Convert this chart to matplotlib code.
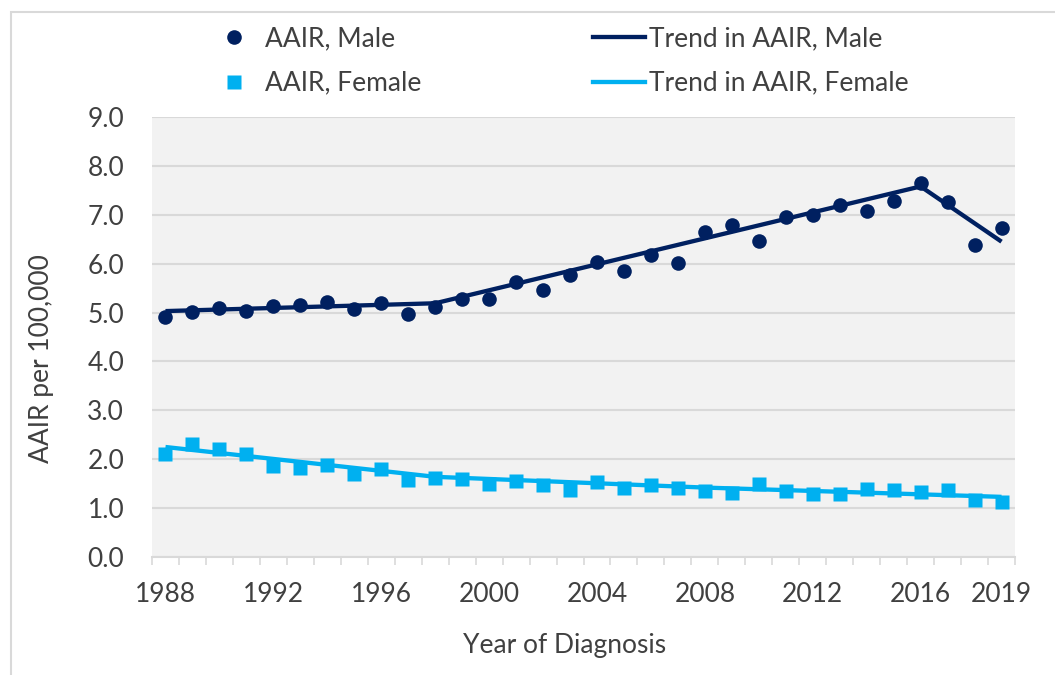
import matplotlib
matplotlib.use("Agg")
import matplotlib.pyplot as plt
from matplotlib.lines import Line2D
from matplotlib.patches import Rectangle
import numpy as np

plt.rcParams['font.family'] = ['Lato', 'DejaVu Sans']

years = list(range(1988, 2020))
male_aair = [4.90, 5.02, 5.10, 5.03, 5.13, 5.15, 5.22, 5.07, 5.20, 4.97,
             5.12, 5.27, 5.28, 5.62, 5.47, 5.77, 6.03, 5.85, 6.17, 6.01,
             6.65, 6.80, 6.47, 6.95, 6.99, 7.21, 7.07, 7.29, 7.64, 7.27,
             6.39, 6.72]
female_aair = [2.10, 2.32, 2.20, 2.10, 1.87, 1.83, 1.88, 1.70, 1.80, 1.58,
               1.62, 1.60, 1.50, 1.55, 1.48, 1.37, 1.54, 1.42, 1.48, 1.42,
               1.35, 1.30, 1.50, 1.35, 1.28, 1.28, 1.40, 1.38, 1.32, 1.38,
               1.17, 1.13]
male_trend_years = [1988, 1998, 2016, 2019]
male_trend_vals = [5.03, 5.19, 7.58, 6.45]
female_trend_years = [1988, 1998, 2008, 2019]
female_trend_vals = [2.25, 1.64, 1.42, 1.23]
xtick_labels = [1988, 1992, 1996, 2000, 2004, 2008, 2012, 2016, 2019]
ytick_vals = [0, 1, 2, 3, 4, 5, 6, 7, 8, 9]

NAVY = '#002060'
CYAN = '#00B0F0'
TXT = '#404040'
GRID = '#D9D9D9'
FS = 19

W, H = 1055, 675
fig = plt.figure(figsize=(W / 100, H / 100), dpi=100)
ax = fig.add_axes([152 / W, 1 - 557 / H, (1015 - 152) / W, (557 - 117) / H])
ax.set_facecolor('#F2F2F2')

ax.plot(male_trend_years, male_trend_vals, color=NAVY, lw=3.1, zorder=3,
        solid_capstyle='butt')
ax.plot(female_trend_years, female_trend_vals, color=CYAN, lw=3.1, zorder=3,
        solid_capstyle='butt')
ax.plot(years, male_aair, 'o', color=NAVY, ms=10.5, mec='none', zorder=4)
ax.plot(years, female_aair, 's', color=CYAN, ms=10, mec='none', zorder=4)

ax.set_xlim(1987.5, 2019.5)
ax.set_ylim(0, 9)
ax.set_yticks(ytick_vals)
ax.set_yticklabels([f"{v:.1f}" for v in ytick_vals])
ax.set_xticks(xtick_labels)
ax.set_xticklabels([str(v) for v in xtick_labels])
ax.set_xticks(np.arange(1987.5, 2020, 1.0), minor=True)
ax.tick_params(axis='x', which='major', length=0, pad=18, labelsize=FS, labelcolor=TXT)
ax.tick_params(axis='x', which='minor', length=6, width=1.2, color=GRID, direction='out')
ax.tick_params(axis='y', length=0, pad=20, labelsize=FS, labelcolor=TXT)

ax.grid(axis='y', color=GRID, lw=1.5, zorder=0)
ax.set_axisbelow(True)
for s in ['top', 'right', 'left']:
    ax.spines[s].set_visible(False)
ax.spines['bottom'].set_color(GRID)
ax.spines['bottom'].set_linewidth(1.5)

fig.text(42 / W, 1 - 359 / H, 'AAIR per 100,000', rotation=90, ha='center',
         va='center', fontsize=FS, color=TXT)
fig.text(565 / W, 1 - 646 / H, 'Year of Diagnosis', ha='center', va='center',
         fontsize=FS, color=TXT)

handles = [
    Line2D([], [], ls='none', marker='o', color=NAVY, ms=10.5, mec='none'),
    Line2D([], [], ls='none', marker='s', color=CYAN, ms=10, mec='none'),
    Line2D([], [], color=NAVY, lw=3.1),
    Line2D([], [], color=CYAN, lw=3.1),
]
labels = ['AAIR, Male', 'AAIR, Female', 'Trend in AAIR, Male', 'Trend in AAIR, Female']
leg = fig.legend(handles, labels, ncol=2, loc='upper left',
                 bbox_to_anchor=(208 / W, 1 - 26 / H), frameon=False,
                 fontsize=FS, handlelength=2.0, handletextpad=0.15,
                 columnspacing=6.5, labelspacing=0.75, borderpad=0,
                 borderaxespad=0)
for t in leg.get_texts():
    t.set_color(TXT)

fig.patches.append(Rectangle((11 / W, -0.1), 1.2, (1 - 12 / H) + 0.1,
                             transform=fig.transFigure, fill=False,
                             edgecolor=GRID, lw=1.5))

fig.savefig('out.png', dpi=100)
